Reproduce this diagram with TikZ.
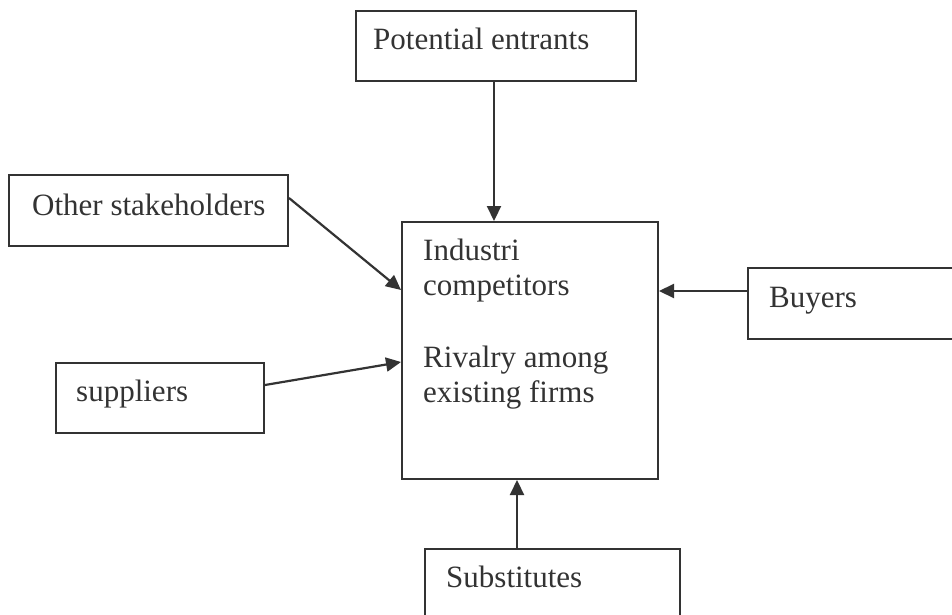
\documentclass[tikz,border=0pt]{standalone}
\usepackage{fontspec}
\setmainfont{Liberation Serif}
\usetikzlibrary{arrows.meta,calc}
\definecolor{ink}{HTML}{333333}
\begin{document}
\begin{tikzpicture}[x=1pt,y=1pt,
  box/.style={draw=ink, line width=2pt, rectangle, inner sep=0pt, anchor=north west},
  lbl/.style={text=ink, font=\fontsize{31}{35}\selectfont, inner sep=0pt, anchor=base west},
  conn/.style={draw=ink, line width=2.2pt, -{Triangle[length=15pt,width=14pt]}}]
\useasboundingbox (0,0) rectangle (952,-615);
\clip (0,0) rectangle (952,-615);
\fill[white] (0,0) rectangle (952,-615);
% boxes
\node[box, minimum width=280, minimum height=70] (pe) at (355,-10) {};
\node[box, minimum width=279, minimum height=71] (os) at (8,-174) {};
\node[box, minimum width=256, minimum height=257] (ind) at (401,-221) {};
\node[box, minimum width=210, minimum height=71] (by) at (747,-267) {};
\node[box, minimum width=208, minimum height=70] (sup) at (55,-362) {};
\node[box, minimum width=255, minimum height=95] (sub) at (424,-548) {};
% texts
\node[lbl] (pet) at (373,-50) {Potential entrants};
\node[lbl] (ost) at (32,-215) {Other stakeholders};
\node[lbl] (ind1) at (423,-260) {Industri};
\node[lbl] (ind2) at (423,-295) {competitors};
\node[lbl] (ind3) at (423,-367) {Rivalry among};
\node[lbl] (ind4) at (423,-402) {existing firms};
\node[lbl] (byt) at (769,-307) {Buyers};
\node[lbl] (supt) at (76,-401) {suppliers};
\node[lbl] (subt) at (446,-587) {Substitutes};
% connectors
\draw[conn] ([xshift=-2]pe.south) -- ([xshift=-2]pe.south |- ind.north);
\draw[conn] ([yshift=-24]os.north east) -- ([yshift=-69]ind.north west);
\draw[conn] ([yshift=-24]by.north west) -- ([yshift=-24]by.north west -| ind.east);
\draw[conn] ([yshift=-23]sup.north east) -- ([yshift=-141]ind.north west);
\draw[conn] ([xshift=93]sub.north west) -- ([xshift=93]sub.north west |- ind.south);
\end{tikzpicture}
\end{document}
